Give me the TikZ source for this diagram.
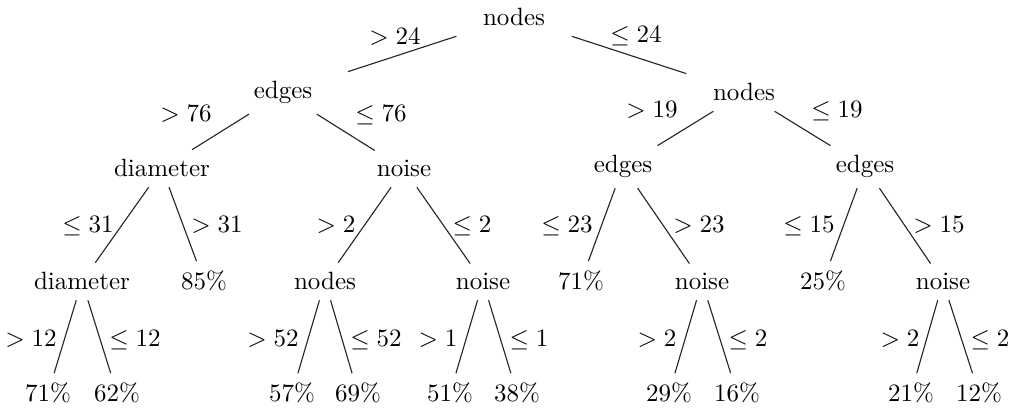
\documentclass[tikz,border=0pt]{standalone}
\begin{document}
\begin{tikzpicture}[x=0.4pt,y=-0.4pt,
  tn/.style={anchor=base,inner xsep=2pt,inner ysep=4pt,outer sep=0pt,minimum width=56pt,font=\fontsize{10}{12}\selectfont},
  lb/.style={anchor=base,inner sep=0pt,font=\fontsize{10}{12}\selectfont},
  br/.style={line width=0.45pt,black!85}]
\useasboundingbox (0,0) rectangle (1015,411);
% tree nodes
\node[tn] (r) at (514,26) {nodes};
\node[tn] (a) at (283,99) {edges};
\node[tn] (b) at (744,101) {nodes};
\node[tn] (aa) at (162,177) {diameter};
\node[tn] (ab) at (404,177) {noise};
\node[tn] (ba) at (623,173) {edges};
\node[tn] (bb) at (865,173) {edges};
\node[tn] (aaa) at (82,290) {diameter};
\node[tn] (aab) at (204,290) {85\%};
\node[tn] (aba) at (325,290) {nodes};
\node[tn] (abb) at (483,290) {noise};
\node[tn] (baa) at (581,290) {71\%};
\node[tn] (bab) at (702,290) {noise};
\node[tn] (bba) at (823,290) {25\%};
\node[tn] (bbb) at (943,290) {noise};
\node[tn] (l1) at (48,402) {71\%};
\node[tn] (l2) at (117,402) {62\%};
\node[tn] (l3) at (292,402) {57\%};
\node[tn] (l4) at (358,402) {69\%};
\node[tn] (l5) at (450,402) {51\%};
\node[tn] (l6) at (517,402) {38\%};
\node[tn] (l7) at (669,402) {29\%};
\node[tn] (l8) at (737,402) {16\%};
\node[tn] (l9) at (911,402) {21\%};
\node[tn] (l10) at (979,402) {12\%};
% connectors
\draw[br] (r) -- (a);
\draw[br] (r) -- (b);
\draw[br] (a) -- (aa);
\draw[br] (a) -- (ab);
\draw[br] (b) -- (ba);
\draw[br] (b) -- (bb);
\draw[br] (aa) -- (aaa);
\draw[br] (aa) -- (aab);
\draw[br] (ab) -- (aba);
\draw[br] (ab) -- (abb);
\draw[br] (ba) -- (baa);
\draw[br] (ba) -- (bab);
\draw[br] (bb) -- (bba);
\draw[br] (bb) -- (bbb);
\draw[br] (aaa) -- (l1);
\draw[br] (aaa) -- (l2);
\draw[br] (aba) -- (l3);
\draw[br] (aba) -- (l4);
\draw[br] (abb) -- (l5);
\draw[br] (abb) -- (l6);
\draw[br] (bab) -- (l7);
\draw[br] (bab) -- (l8);
\draw[br] (bbb) -- (l9);
\draw[br] (bbb) -- (l10);
% labels
\node[lb] (e1) at (395,45) {$> 24$};
\node[lb] (e2) at (636,43) {$\leq 24$};
\node[lb] (e3) at (186,122) {$> 76$};
\node[lb] (e4) at (381,122) {$\leq 76$};
\node[lb] (e5) at (652,118) {$> 19$};
\node[lb] (e6) at (837,118) {$\leq 19$};
\node[lb] (e7) at (88,233) {$\leq 31$};
\node[lb] (e8) at (217,233) {$> 31$};
\node[lb] (e9) at (336,233) {$> 2$};
\node[lb] (e10) at (472,233) {$\leq 2$};
\node[lb] (e11) at (567,233) {$\leq 23$};
\node[lb] (e12) at (699,233) {$> 23$};
\node[lb] (e13) at (809,233) {$\leq 15$};
\node[lb] (e14) at (939,233) {$> 15$};
\node[lb] (e15) at (31,347) {$> 12$};
\node[lb] (e16) at (135,347) {$\leq 12$};
\node[lb] (e17) at (273,347) {$> 52$};
\node[lb] (e18) at (376,347) {$\leq 52$};
\node[lb] (e19) at (438,347) {$> 1$};
\node[lb] (e20) at (529,347) {$\leq 1$};
\node[lb] (e21) at (657,347) {$> 2$};
\node[lb] (e22) at (748,347) {$\leq 2$};
\node[lb] (e23) at (900,347) {$> 2$};
\node[lb] (e24) at (990,347) {$\leq 2$};
\end{tikzpicture}
\end{document}
